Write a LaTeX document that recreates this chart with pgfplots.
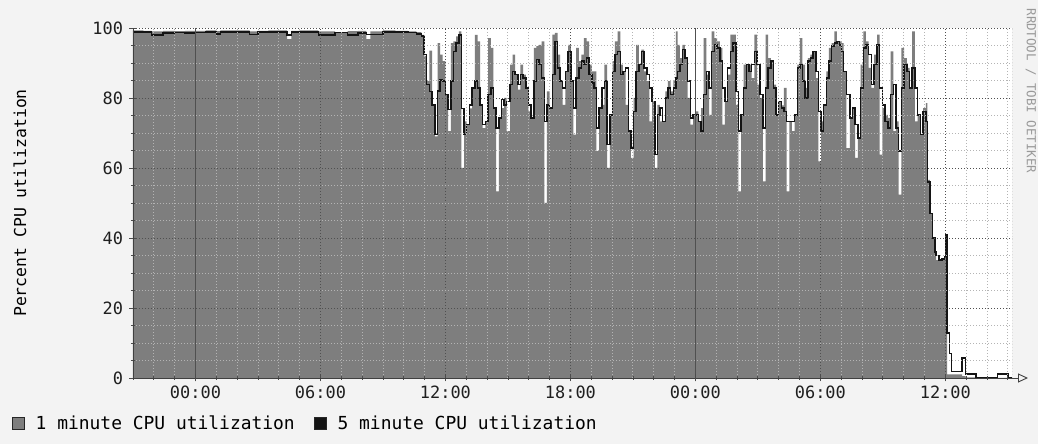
\documentclass[border=0pt]{standalone}
\usepackage{fontspec}
\setmainfont{DejaVu Sans Mono}
\usepackage{pgfplots}
\pgfplotsset{compat=1.18}
\usepackage{pgfplotstable}
\usetikzlibrary{arrows.meta}
\definecolor{bg}{HTML}{F3F3F3}
\definecolor{areagray}{HTML}{7E7E7E}
\definecolor{linedark}{HTML}{141414}
\definecolor{minorgrid}{HTML}{B4B4B4}
\definecolor{majorgrid}{HTML}{505050}
\definecolor{daygrid}{HTML}{505050}

\pgfplotstableread{
h A L
-3.00 99.3 98.9
-2.50 99.2 98.9
-2.10 99.0 98.0
-1.55 99.2 98.6
-1.00 99.1 98.7
-0.50 99.2 98.6
0.00 99.2 98.7
0.50 99.3 98.8
1.00 99.1 98.3
1.20 99.3 98.9
2.00 99.3 98.9
2.60 99.0 98.2
3.00 99.2 98.9
3.50 99.3 98.9
4.40 96.8 98.0
4.60 99.2 98.9
5.00 99.3 98.9
5.90 99.0 98.0
6.70 98.6 98.7
7.30 99.1 98.0
7.80 99.2 98.6
8.20 96.8 98.1
8.40 99.0 98.2
9.00 99.3 98.9
9.60 99.2 98.8
10.20 99.0 98.7
10.60 98.8 98.3
10.85 98.0 97.7
10.98 92.0 92.4
11.10 84.8 83.8
11.23 93.5 81.9
11.36 78.0 78.0
11.49 69.0 69.5
11.62 95.7 82.0
11.74 92.4 85.2
11.87 90.5 84.8
12.00 81.0 81.0
12.13 70.5 76.7
12.26 95.7 84.8
12.38 96.2 93.3
12.51 97.6 95.7
12.64 99.0 98.0
12.77 60.0 77.0
12.90 73.3 69.5
13.02 72.4 72.4
13.15 77.0 78.0
13.28 82.9 82.9
13.41 98.0 84.8
13.54 96.2 82.9
13.66 78.0 78.0
13.79 71.4 72.4
13.92 73.3 73.3
14.05 97.1 81.0
14.18 94.3 82.9
14.30 77.1 77.1
14.43 53.3 71.4
14.56 74.3 74.3
14.69 77.1 79.5
14.82 80.0 78.0
14.94 70.5 79.0
15.10 89.5 83.8
15.22 92.4 87.6
15.35 86.7 86.7
15.48 82.4 83.8
15.60 89.5 86.7
15.73 86.7 85.7
15.86 82.9 82.9
15.98 76.2 78.0
16.11 74.3 74.3
16.24 94.3 84.8
16.37 94.8 91.0
16.49 95.2 89.5
16.62 96.2 85.7
16.75 50.0 73.3
16.87 81.9 78.0
17.00 77.1 77.1
17.13 98.1 86.7
17.25 98.6 96.2
17.38 92.4 88.6
17.51 84.8 84.8
17.63 78.0 82.9
17.76 87.6 87.6
17.89 95.2 93.3
18.02 84.8 84.8
18.14 69.5 77.1
18.27 94.3 85.7
18.40 90.5 88.6
18.52 92.4 90.5
18.65 97.1 89.5
18.78 96.2 91.4
18.90 89.5 86.7
19.03 87.6 84.3
19.13 87.6 82.9
19.25 64.8 71.4
19.38 77.1 77.1
19.51 78.0 82.9
19.63 89.5 84.8
19.76 60.0 66.7
19.89 75.2 75.2
20.02 90.5 87.6
20.14 96.2 92.4
20.27 99.0 93.3
20.40 89.5 86.7
20.52 87.6 87.6
20.65 78.0 88.6
20.78 70.5 70.5
20.90 62.9 65.7
21.03 80.0 76.2
21.16 95.2 87.6
21.29 89.5 89.5
21.41 93.8 93.3
21.54 87.6 88.6
21.67 84.8 86.7
21.79 73.3 82.9
21.92 79.0 79.0
22.05 60.0 63.8
22.17 78.0 75.2
22.30 73.3 77.1
22.43 73.3 73.3
22.56 81.9 80.0
22.68 84.8 82.9
22.81 81.9 81.0
22.94 84.8 82.9
23.06 99.0 85.7
23.15 95.2 87.6
23.25 91.4 89.5
23.38 95.2 93.8
23.50 91.4 91.4
23.63 80.0 84.8
23.76 72.4 74.3
23.89 75.2 75.2
24.02 76.2 75.2
24.14 73.3 73.3
24.27 77.1 70.5
24.40 97.1 81.0
24.53 86.7 87.6
24.66 75.2 82.9
24.78 99.0 93.3
24.91 97.1 95.2
25.04 96.2 94.3
25.17 94.3 90.5
25.30 72.4 82.9
25.42 79.0 79.0
25.55 86.7 88.6
25.68 98.1 93.3
25.81 98.1 95.7
25.94 78.0 81.9
26.06 53.3 70.5
26.19 75.2 75.2
26.32 89.5 82.9
26.45 89.5 89.5
26.58 89.5 87.6
26.70 85.7 89.5
26.83 98.1 93.3
26.96 83.8 89.5
27.09 80.0 81.0
27.24 56.2 71.4
27.37 98.1 82.9
27.49 91.4 88.6
27.62 90.5 90.5
27.75 83.8 82.9
27.87 75.2 75.2
28.00 79.0 79.0
28.13 77.9 77.1
28.25 82.9 76.2
28.38 53.3 73.3
28.51 73.3 73.3
28.63 70.5 73.3
28.76 75.2 75.2
28.89 89.5 88.6
29.02 97.1 89.5
29.14 89.5 84.8
29.27 82.9 80.0
29.40 91.4 90.5
29.52 92.4 91.4
29.65 93.3 93.3
29.78 85.7 87.6
29.90 61.9 76.2
30.03 73.3 70.5
30.16 78.0 78.0
30.29 87.6 85.7
30.41 94.3 90.5
30.54 95.7 94.8
30.67 99.0 95.7
30.79 96.2 96.2
30.92 96.2 95.2
31.02 95.7 93.3
31.12 87.6 87.6
31.25 65.7 81.0
31.41 74.3 74.3
31.54 77.1 77.1
31.67 62.9 72.4
31.80 68.6 68.6
31.93 89.5 82.9
32.06 99.0 94.3
32.19 96.2 95.2
32.32 88.6 92.4
32.45 82.9 83.8
32.58 92.4 89.5
32.72 98.1 95.2
32.85 63.8 82.9
32.98 77.1 78.0
33.11 75.2 73.3
33.24 74.3 71.4
33.37 93.3 81.0
33.50 70.5 83.8
33.63 73.3 71.4
33.76 52.4 64.8
33.89 94.3 82.9
34.02 91.4 89.5
34.15 88.6 87.6
34.28 82.9 82.9
34.41 99.0 88.6
34.54 73.3 82.9
34.67 75.2 75.2
34.80 69.5 69.5
34.93 77.1 76.2
35.06 78.5 73.3
35.14 56.6 56.0
35.26 47.0 47.0
35.38 40.0 40.0
35.50 36.0 36.0
35.56 33.7 35.0
35.70 33.5 33.7
35.85 34.0 34.0
35.95 34.5 34.5
36.02 41.0 41.0
36.09 1.0 12.8
36.20 1.0 7.0
36.30 1.0 1.8
36.80 0.5 5.7
36.97 0.2 1.2
37.48 0.0 0.2
38.50 0.0 1.2
39.00 0.0 0.2
39.20 0.0 0.2
}\cpudata

\begin{document}
\begin{tikzpicture}[x=1bp,y=1bp]
\path[use as bounding box] (-133,-66) rectangle (905,378);
\fill[bg] (-133,-66) rectangle (905,378);
\begin{axis}[
  at={(0,0)}, anchor=south west,
  scale only axis, width=879bp, height=350bp,
  xmin=-3, xmax=39.2, ymin=0, ymax=100,
  axis background/.style={fill=white},
  axis on top,
  axis x line*=bottom, axis y line*=left,
  axis line style={draw=black!75, line width=0.9bp},
  x axis line style={-{Triangle[open,length=10bp,width=9bp]}, shorten >=-16bp},
  xtick={0,6,12,18,24,30,36},
  xticklabels={00:00,06:00,12:00,18:00,00:00,06:00,12:00},
  minor xtick={-3,-2,...,39},
  ytick={0,20,40,60,80,100},
  minor ytick={0,5,...,100},
  grid=both,
  minor grid style={draw=minorgrid, line width=0.9bp, dash pattern=on 1bp off 2bp},
  major grid style={draw=majorgrid, line width=0.9bp, dash pattern=on 1bp off 2bp},
  major tick length=7bp, minor tick length=4bp, tick align=center,
  tick style={draw=black!70, line width=0.8bp},
  extra x ticks={0,24},
  extra x tick labels={},
  extra x tick style={grid=major, major grid style={draw=daygrid, solid, line width=1.1bp}},
  /pgf/number format/assume math mode=true,
  ticklabel style={font=\fontsize{17}{20}\selectfont, text=black!88},
  xticklabel style={yshift=-1bp},
  yticklabel style={xshift=-3bp},
  ylabel={Percent CPU utilization},
  ylabel style={at={(axis description cs:-0.1286,0.5)}, anchor=center, font=\fontsize{16.5}{20}\selectfont},
  legend style={at={(axis description cs:-0.138,-0.131)}, anchor=west, draw=none, fill=none,
    inner sep=0pt, font=\fontsize{18}{22}\selectfont,
    /tikz/every odd column/.append style={column sep=9bp},
    /tikz/every even column/.append style={column sep=17bp}},
  legend columns=2,
  legend cell align=left,
  legend image code/.code={\draw[#1, draw=black!85, line width=0.8bp] (0bp,-6bp) rectangle (12bp,6bp);},
]
\addplot[forget plot, const plot, fill=areagray, draw=none] table[x=h, y=A] {\cpudata} \closedcycle;
\addplot[forget plot, const plot, draw=linedark, line width=1.5bp] table[x=h, y=L] {\cpudata};
\draw[majorgrid, line width=0.9bp, dash pattern=on 1bp off 2bp] (rel axis cs:1,0) -- (rel axis cs:1,1);
\addlegendimage{fill=areagray}
\addlegendentry{1 minute CPU utilization}
\addlegendimage{fill=linedark}
\addlegendentry{5 minute CPU utilization}
\end{axis}
\node[rotate=-90, anchor=west, font=\fontsize{12.5}{14}\selectfont, text=black!40] at (898,373) {RRDTOOL / TOBI OETIKER};
\end{tikzpicture}
\end{document}
